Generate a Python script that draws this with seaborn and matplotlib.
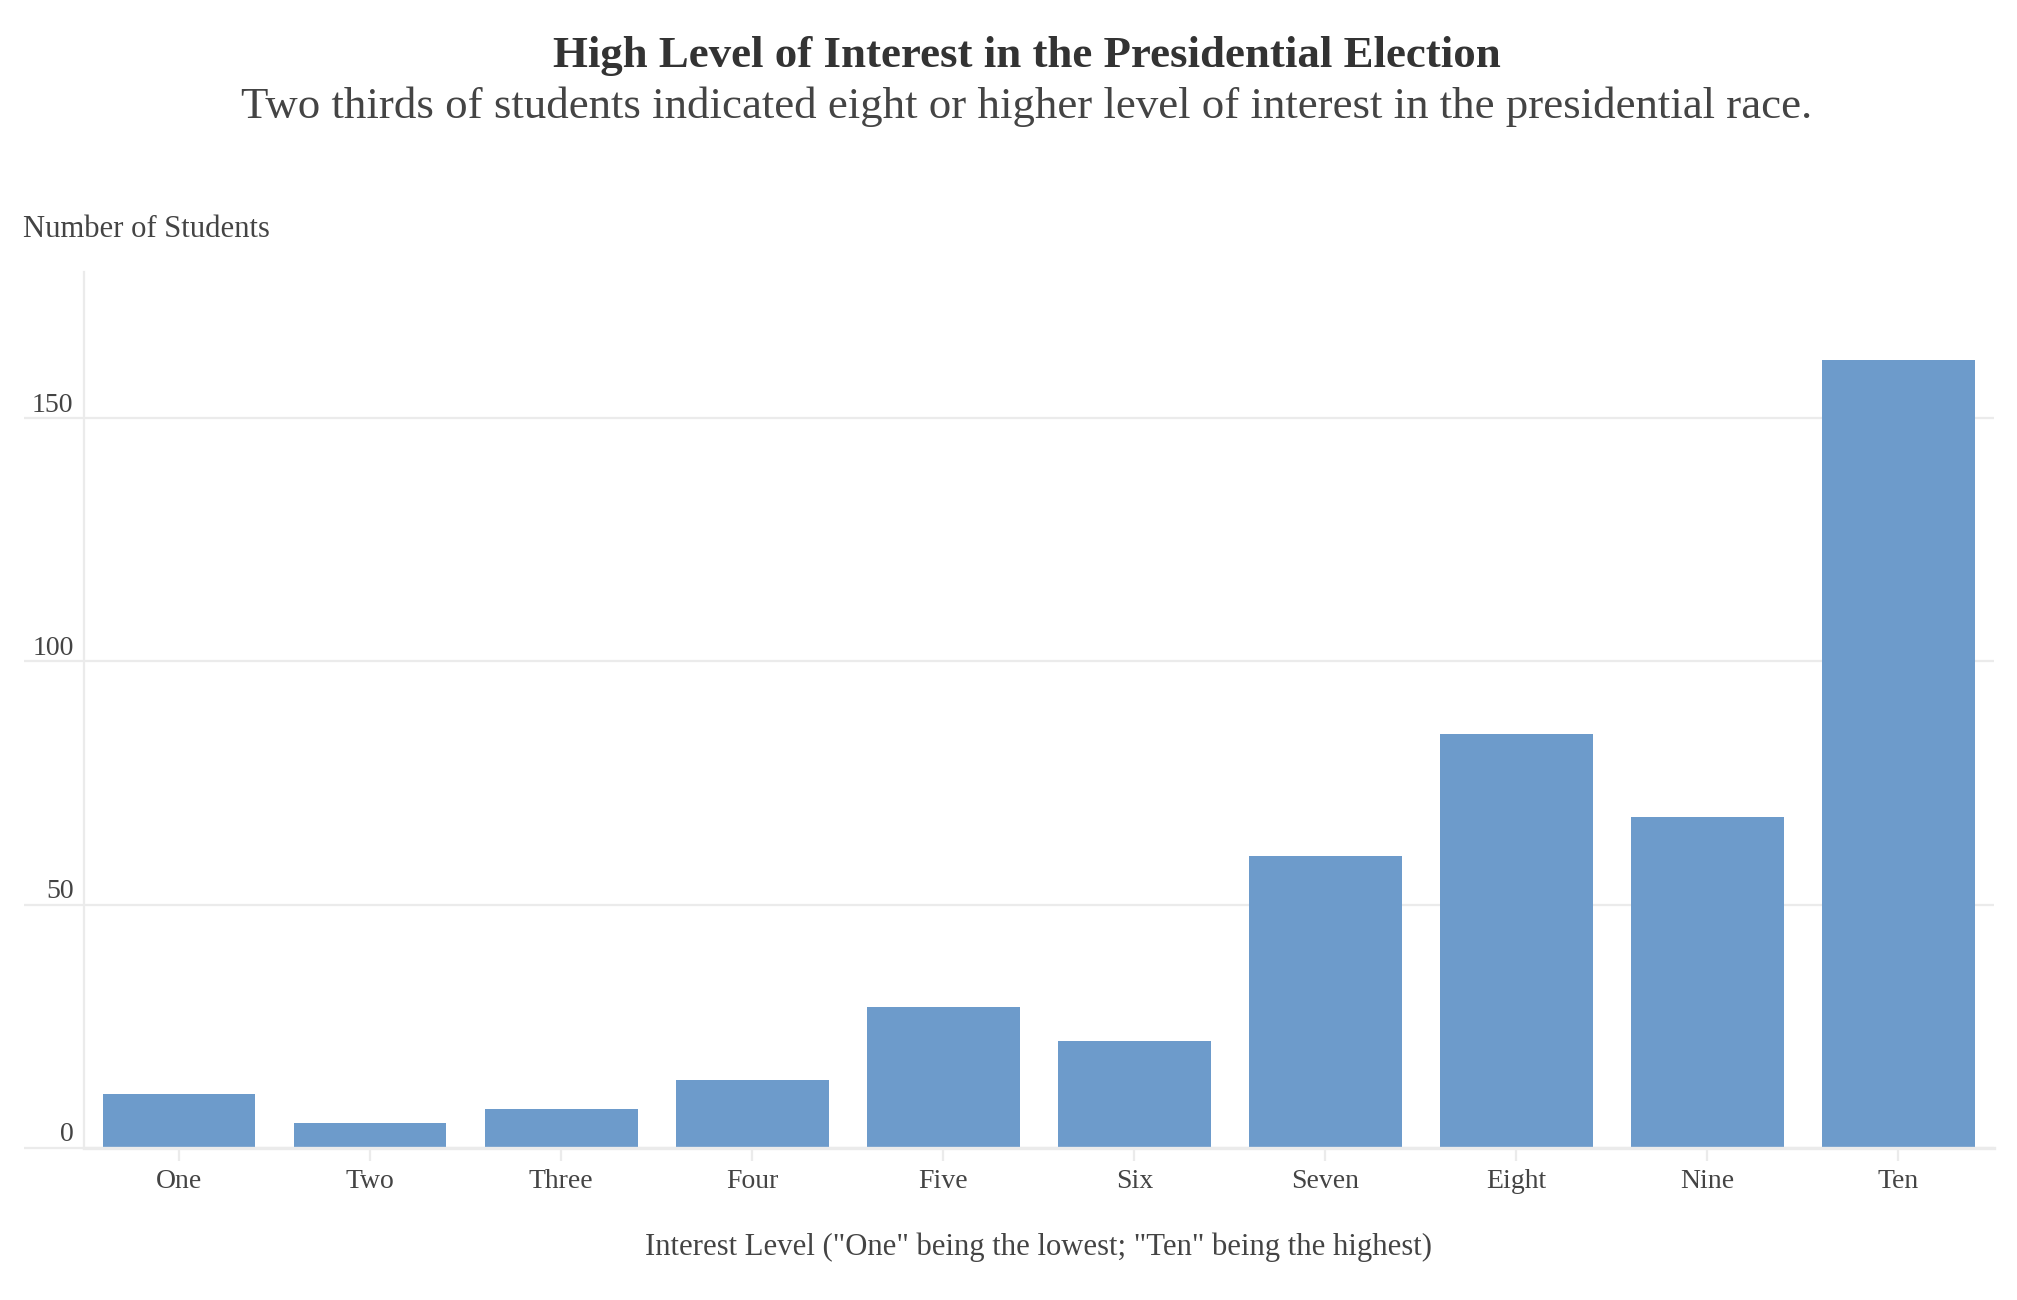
import matplotlib
matplotlib.use('Agg')
import matplotlib.pyplot as plt
import matplotlib.transforms as mtransforms
import seaborn as sns
import pandas as pd

levels = ["One", "Two", "Three", "Four", "Five", "Six", "Seven", "Eight", "Nine", "Ten"]
students = [11, 5, 8, 14, 29, 22, 60, 85, 68, 162]
y_ticks = [0, 50, 100, 150]

title = "High Level of Interest in the Presidential Election"
subtitle = "Two thirds of students indicated eight or higher level of interest in the presidential race."
x_title = 'Interest Level ("One" being the lowest; "Ten" being the highest)'
y_title = "Number of Students"

sns.set_theme(style='white')
plt.rcParams['font.family'] = ['Liberation Serif', 'DejaVu Serif']

W, H = 2017, 1300
fig = plt.figure(figsize=(W / 100, H / 100), dpi=100)
ax_l, ax_r, ax_b, ax_t = 83.5, 1994, 1147.7, 272.3
ax = fig.add_axes([ax_l / W, 1 - ax_b / H, (ax_r - ax_l) / W, (ax_b - ax_t) / H])

df = pd.DataFrame({'level': levels, 'students': students})
sns.barplot(data=df, x='level', y='students', color='#6D9BCB', saturation=1,
            width=0.8, ax=ax, edgecolor='none', linewidth=0)

ax.set_xlim(-0.5, 9.5)
ax.set_ylim(0, 180)
ax.set_yticks(y_ticks)
ax.set_yticklabels([str(v) for v in y_ticks])
ax.yaxis.grid(True, color='#EBEBEB', linewidth=1.6)
ax.xaxis.grid(False)
ax.set_axisbelow(True)
for s in ['top', 'right']:
    ax.spines[s].set_visible(False)
ax.spines['left'].set_color('#EBEBEB')
ax.spines['left'].set_linewidth(1.6)
ax.spines['bottom'].set_color('#EBEBEB')
ax.spines['bottom'].set_linewidth(2.4)

ax.tick_params(axis='y', length=43.2, width=1.6, color='#EBEBEB', pad=-36,
               labelsize=20, labelcolor='#444444', left=True)
ax.tick_params(axis='x', length=9.4, width=1.6, color='#EBEBEB', pad=6.2,
               labelsize=20, labelcolor='#444444', bottom=True)

offset = mtransforms.ScaledTranslation(0, 16 / 100, fig.dpi_scale_trans)
for lab in ax.get_yticklabels():
    lab.set_transform(lab.get_transform() + offset)

ax.set_xlabel(x_title, fontsize=22.1, color='#444444', va='baseline')
ax.xaxis.set_label_coords(0.5, (ax_b - 1255) / (ax_b - ax_t))
ax.set_ylabel(y_title, fontsize=22.1, color='#444444', rotation=0,
              ha='left', va='baseline')
ax.yaxis.set_label_coords((23 - ax_l) / (ax_r - ax_l), (ax_b - 237) / (ax_b - ax_t))

fig.text(1027 / W, 1 - 67 / H, title, ha='center', va='baseline',
         fontsize=32.3, fontweight='bold', color='#333333')
fig.text(1027 / W, 1 - 118 / H, subtitle, ha='center', va='baseline',
         fontsize=32.3, color='#444444')

fig.savefig('out.png', dpi=100, facecolor='white')
